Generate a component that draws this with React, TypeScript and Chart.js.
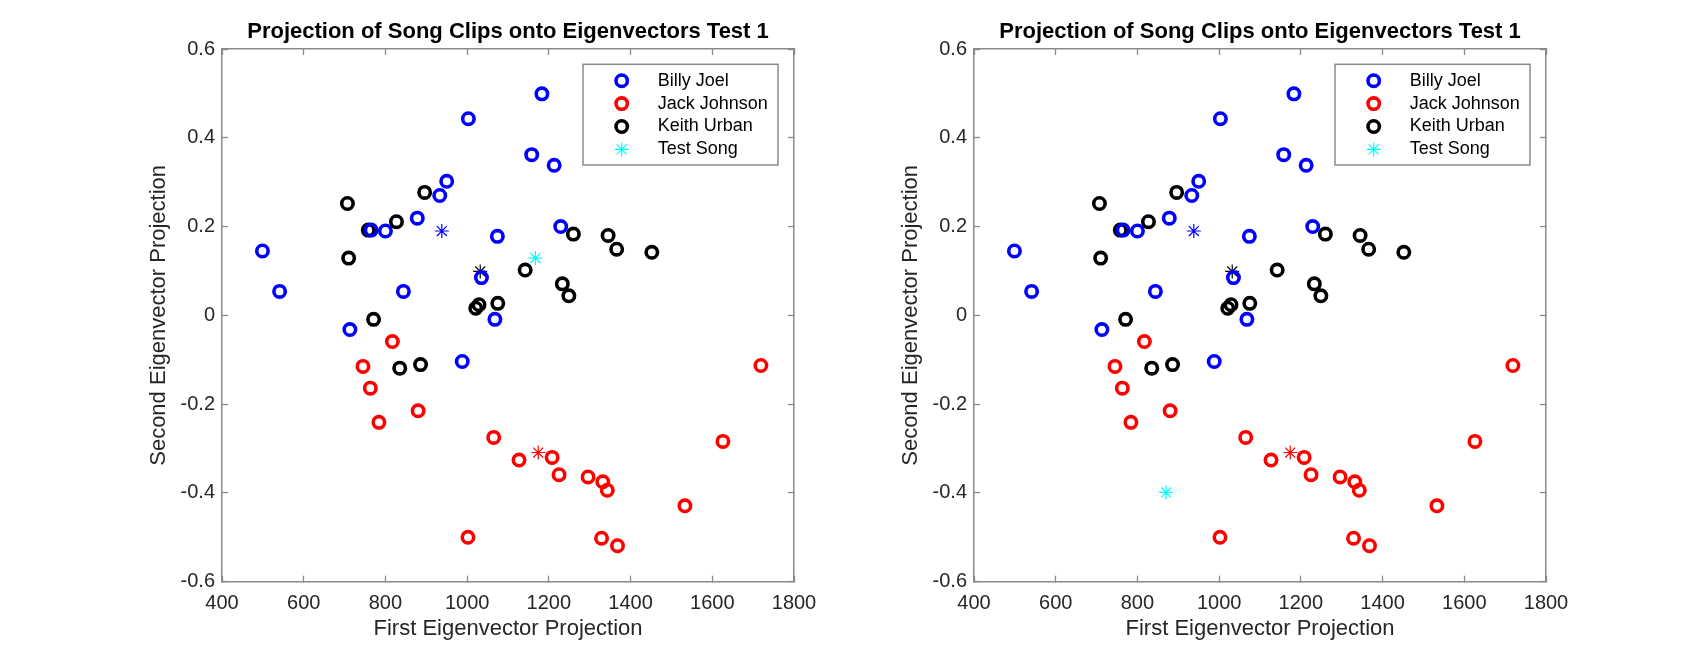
import React, { useEffect, useRef } from "react";
import { Chart, registerables } from "chart.js";
import { drawPoint } from "chart.js/helpers";

Chart.register(...registerables);

const FONT = "'Liberation Sans', Arial, Helvetica, sans-serif";
const AXIS_GREY = "#8a8a8a";
const TEXT_DARK = "#262626";

// ---- text ----
const titleText = "Projection of Song Clips onto Eigenvectors Test 1";
const xAxisLabel = "First Eigenvector Projection";
const yAxisLabel = "Second Eigenvector Projection";

// ---- ticks ----
const xTicks = [400, 600, 800, 1000, 1200, 1400, 1600, 1800];
const yTicks = [-0.6, -0.4, -0.2, 0, 0.2, 0.4, 0.6];

// ---- Billy Joel ----
const billyX = [499, 541, 713, 765, 800, 844, 878, 933, 950, 1003, 1035, 1074, 1068, 988, 1158, 1183, 1213, 1229];
const billyY = [0.145, 0.054, -0.032, 0.192, 0.19, 0.054, 0.219, 0.27, 0.302, 0.443, 0.085, 0.178, -0.009, -0.104, 0.362, 0.499, 0.338, 0.2];

// ---- Jack Johnson ----
const jackX = [817, 745, 763, 784, 880, 1002, 1065, 1127, 1208, 1225, 1296, 1332, 1343, 1329, 1368, 1533, 1626, 1719];
const jackY = [-0.059, -0.115, -0.164, -0.241, -0.215, -0.5, -0.275, -0.326, -0.32, -0.359, -0.364, -0.375, -0.394, -0.502, -0.519, -0.429, -0.284, -0.113];

// ---- Keith Urban ----
const keithX = [707, 710, 758, 771, 827, 896, 835, 886, 1021, 1029, 1075, 1142, 1233, 1249, 1260, 1345, 1366, 1452];
const keithY = [0.252, 0.129, 0.192, -0.009, 0.211, 0.277, -0.119, -0.111, 0.016, 0.024, 0.027, 0.102, 0.071, 0.044, 0.183, 0.18, 0.149, 0.142];

// ---- class centres (stars) ----
const billyMeanX = [938];
const billyMeanY = [0.19];
const jackMeanX = [1174];
const jackMeanY = [-0.309];
const keithMeanX = [1032];
const keithMeanY = [0.099];

// ---- test song (left panel / right panel) ----
const testLeftX = [1167];
const testLeftY = [0.129];
const testRightX = [870];
const testRightY = [-0.399];

const pts = (xs: number[], ys: number[]) => xs.map((x, i) => ({ x, y: ys[i] }));

const circleSet = (label: string, color: string, xs: number[], ys: number[]) => ({
  label,
  data: pts(xs, ys),
  pointStyle: "circle",
  pointRadius: 5.7,
  pointHoverRadius: 5.7,
  pointBorderWidth: 3.6,
  pointBorderColor: color,
  pointBackgroundColor: "rgba(0,0,0,0)",
  borderColor: color,
  backgroundColor: "rgba(0,0,0,0)",
  showLine: false,
  inLegend: true,
});

const starSet = (label: string, color: string, xs: number[], ys: number[], inLegend: boolean) => ({
  label,
  data: pts(xs, ys),
  pointStyle: "star",
  pointRadius: 7,
  pointHoverRadius: 7,
  pointBorderWidth: 1.2,
  pointBorderColor: color,
  pointBackgroundColor: "rgba(0,0,0,0)",
  borderColor: color,
  backgroundColor: "rgba(0,0,0,0)",
  showLine: false,
  inLegend,
});

const boxLegend = {
  id: "boxLegend",
  afterDraw(chart: any) {
    const { ctx, chartArea } = chart;
    const x0 = chartArea.left + 361;
    const y0 = chartArea.top + 15.3;
    const w = 195;
    const h = 100.7;
    ctx.save();
    ctx.fillStyle = "#ffffff";
    ctx.fillRect(x0, y0, w, h);
    ctx.strokeStyle = AXIS_GREY;
    ctx.lineWidth = 1.5;
    ctx.strokeRect(x0, y0, w, h);
    const items = chart.data.datasets.filter((d: any) => d.inLegend);
    items.forEach((ds: any, i: number) => {
      const cy = y0 + 16.4 + i * 22.9;
      const mx = x0 + 38.7;
      ctx.save();
      ctx.strokeStyle = ds.pointBorderColor;
      ctx.fillStyle = "rgba(0,0,0,0)";
      ctx.lineWidth = ds.pointBorderWidth;
      drawPoint(ctx, { pointStyle: ds.pointStyle, rotation: 0, radius: ds.pointRadius, borderWidth: ds.pointBorderWidth }, mx, cy);
      ctx.restore();
      ctx.fillStyle = "#000000";
      ctx.font = `18px ${FONT}`;
      ctx.textAlign = "left";
      ctx.textBaseline = "middle";
      ctx.fillText(ds.label, x0 + 74.7, cy);
    });
    ctx.restore();
  },
};

const setTicks = (values: number[]) => (scale: any) => {
  scale.ticks = values.map((v) => ({ value: v }));
};

const tickFont = { family: FONT, size: 20 };
const axisTitleFont = { family: FONT, size: 22 };

function makeConfig(testX: number[], testY: number[]): any {
  return {
    type: "scatter",
    data: {
      datasets: [
        circleSet("Billy Joel", "#0000ff", billyX, billyY),
        circleSet("Jack Johnson", "#ff0000", jackX, jackY),
        circleSet("Keith Urban", "#000000", keithX, keithY),
        starSet("Test Song", "#00ffff", testX, testY, true),
        starSet("Billy Joel centre", "#0000ff", billyMeanX, billyMeanY, false),
        starSet("Jack Johnson centre", "#ff0000", jackMeanX, jackMeanY, false),
        starSet("Keith Urban centre", "#000000", keithMeanX, keithMeanY, false),
      ],
    },
    options: {
      animation: false,
      responsive: false,
      events: [],
      layout: { padding: { left: 0, right: 0, top: 0, bottom: 0 } },
      plugins: {
        legend: { display: false },
        tooltip: { enabled: false },
        title: {
          display: true,
          text: titleText,
          fullSize: false,
          color: "#000000",
          font: { family: FONT, size: 22, weight: "bold" },
          padding: { top: 19.2, bottom: 3.4 },
        },
      },
      scales: {
        x: {
          type: "linear",
          position: "bottom",
          min: 400,
          max: 1800,
          afterBuildTicks: setTicks(xTicks),
          afterFit: (s: any) => { s.height = 72.3; },
          ticks: {
            autoSkip: false,
            maxRotation: 0,
            padding: 16,
            color: TEXT_DARK,
            font: tickFont,
            callback: (v: any) => String(v),
          },
          grid: { display: true, drawOnChartArea: false, drawTicks: true, tickLength: -6, tickColor: AXIS_GREY, tickWidth: 1.3 },
          border: { display: true, color: AXIS_GREY, width: 1.5 },
          title: { display: true, text: xAxisLabel, color: TEXT_DARK, font: axisTitleFont, padding: { top: 0, bottom: 11.8 } },
        },
        x2: {
          type: "linear",
          position: "top",
          min: 400,
          max: 1800,
          afterBuildTicks: setTicks(xTicks),
          afterFit: (s: any) => { s.height = 0; },
          ticks: { display: false },
          grid: { display: true, drawOnChartArea: false, drawTicks: true, tickLength: -6, tickColor: AXIS_GREY, tickWidth: 1.3 },
          border: { display: true, color: AXIS_GREY, width: 1.5 },
        },
        y: {
          type: "linear",
          position: "left",
          min: -0.6,
          max: 0.6,
          afterBuildTicks: setTicks(yTicks),
          afterFit: (s: any) => { s.width = 222; },
          ticks: {
            autoSkip: false,
            padding: 13,
            color: TEXT_DARK,
            font: tickFont,
            callback: (v: any) => String(v),
          },
          grid: { display: true, drawOnChartArea: false, drawTicks: true, tickLength: -6, tickColor: AXIS_GREY, tickWidth: 1.3 },
          border: { display: true, color: AXIS_GREY, width: 1.5 },
          title: { display: true, text: yAxisLabel, color: TEXT_DARK, font: axisTitleFont, padding: { top: 145.8, bottom: 0 } },
        },
        y2: {
          type: "linear",
          position: "right",
          min: -0.6,
          max: 0.6,
          afterBuildTicks: setTicks(yTicks),
          afterFit: (s: any) => { s.width = 60; },
          ticks: { display: false },
          grid: { display: true, drawOnChartArea: false, drawTicks: true, tickLength: -6, tickColor: AXIS_GREY, tickWidth: 1.3 },
          border: { display: true, color: AXIS_GREY, width: 1.5 },
        },
      },
    },
    plugins: [boxLegend],
  };
}

function Panel({ left, testX, testY }: { left: number; testX: number[]; testY: number[] }) {
  const ref = useRef<HTMLCanvasElement | null>(null);
  useEffect(() => {
    if (!ref.current) return;
    const chart = new Chart(ref.current, makeConfig(testX, testY));
    return () => chart.destroy();
  }, []);
  return (
    <canvas
      ref={ref}
      width={854}
      height={654}
      style={{ position: "absolute", left, top: 0, width: 854, height: 654 }}
    />
  );
}

export default function App() {
  return (
    <div style={{ position: "absolute", left: 0, top: 0, width: 1708, height: 654, background: "#ffffff", overflow: "hidden" }}>
      <Panel left={0} testX={testLeftX} testY={testLeftY} />
      <Panel left={752} testX={testRightX} testY={testRightY} />
    </div>
  );
}
